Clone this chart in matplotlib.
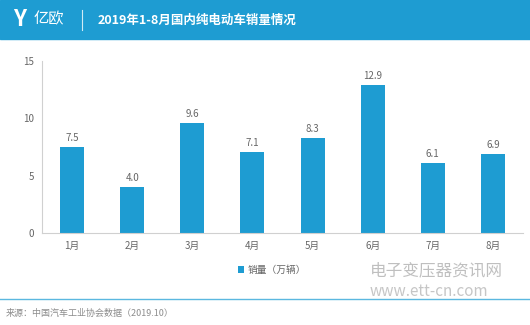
import matplotlib
matplotlib.use("Agg")
import matplotlib.pyplot as plt
from matplotlib.patches import Rectangle
from matplotlib.lines import Line2D

plt.rcParams['font.family'] = ['Noto Sans CJK SC', 'DejaVu Sans']

months = ['1月', '2月', '3月', '4月', '5月', '6月', '7月', '8月']
sales = [7.5, 4.0, 9.6, 7.1, 8.3, 12.9, 6.1, 6.9]
yticks = [0, 5, 10, 15]
title = '2019年1-8月国内纯电动车销量情况'
legend_label = '销量（万辆）'
source = '来源：中国汽车工业协会数据（2019.10）'

W, H = 530, 325
fig = plt.figure(figsize=(W / 100, H / 100), dpi=100)
blue = '#1E9CD2'

# header band
fig.patches.append(Rectangle((0, 1 - 39 / H), 1, 39 / H, transform=fig.transFigure,
                             color=blue, zorder=0))
fig.text(34 / W, 1 - 19 / H, '亿欧', color='white', fontsize=11, va='center', ha='left')
fig.text(20 / W, 1 - 20 / H, 'Y', color='white', fontsize=16, va='center', ha='center',
         fontweight='bold')
fig.lines.append(Line2D([82 / W, 82 / W], [1 - 10 / H, 1 - 30 / H], transform=fig.transFigure,
                        color='white', lw=0.8, alpha=0.8))
fig.text(98 / W, 1 - 20 / H, title, color='white', fontsize=9, fontweight='heavy',
         va='center', ha='left')

ax = fig.add_axes([42 / W, 1 - 233 / H, (523 - 42) / W, (233 - 61) / H])
x = range(len(months))
ax.bar(x, sales, width=0.4, color=blue, label=legend_label)
for xi, v in zip(x, sales):
    ax.text(xi, v + 0.35, f'{v:.1f}', ha='center', va='bottom', fontsize=7, color='#666666')
ax.set_xlim(-0.5, len(months) - 0.5)
ax.set_ylim(0, 15)
ax.set_yticks(yticks)
ax.set_xticks(list(x))
ax.set_xticklabels(months)
ax.tick_params(length=0, labelsize=7, labelcolor='#666666', pad=6)
for s in ['top', 'right']:
    ax.spines[s].set_visible(False)
for s in ['left', 'bottom']:
    ax.spines[s].set_color('#D0D0D0')
    ax.spines[s].set_linewidth(0.8)

ax.legend(loc='center', bbox_to_anchor=(272 / W, 1 - 270 / H), bbox_transform=fig.transFigure,
          frameon=False, fontsize=7, handlelength=0.6, handleheight=0.6, handletextpad=0.4,
          labelcolor='#666666')

# watermark
fig.text(370 / W, 1 - 271 / H, '电子变压器资讯网', color='#B0B0B0', fontsize=12,
         ha='left', va='center', alpha=0.8)
fig.text(370 / W, 1 - 291 / H, 'www.ett-cn.com', color='#B8B8B8', fontsize=11,
         ha='left', va='center', alpha=0.8)

# separator and source
fig.lines.append(Line2D([0, 1], [1 - 299 / H, 1 - 299 / H], transform=fig.transFigure,
                        color='#5BB8E0', lw=1.0))
fig.text(6 / W, 1 - 313 / H, source, color='#8C8C8C', fontsize=6.5, ha='left', va='center')

fig.savefig('out.png', dpi=100)
